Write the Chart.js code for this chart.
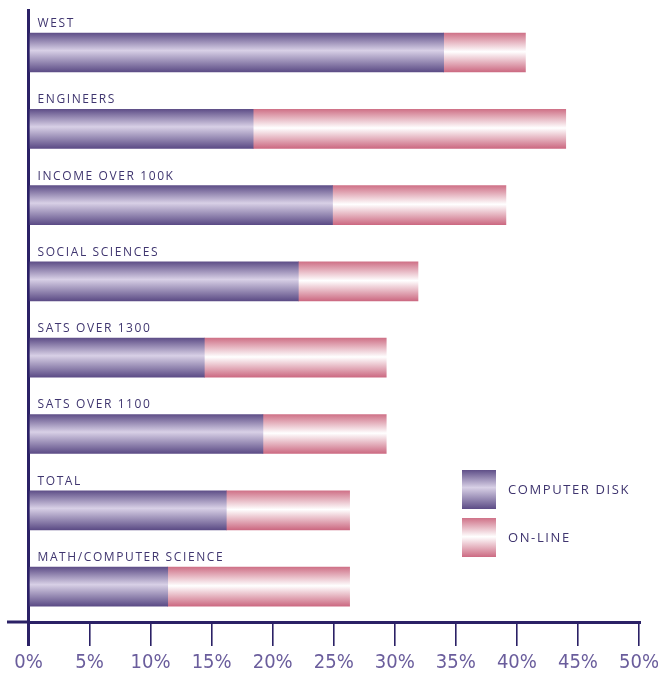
<!DOCTYPE html>
<html>
<head>
<meta charset="utf-8">
<script src="https://cdn.jsdelivr.net/npm/chart.js@4"></script>
<style>
  html, body { margin: 0; padding: 0; background: #fff; }
  #wrap { width: 658px; height: 673px; position: relative; }
</style>
</head>
<body>
<div id="wrap"><canvas id="chart"></canvas></div>
<script>
const categories = ['WEST', 'ENGINEERS', 'INCOME OVER 100K', 'SOCIAL SCIENCES',
    'SATS OVER 1300', 'SATS OVER 1100', 'TOTAL', 'MATH/COMPUTER SCIENCE'];
const computerDisk = [34.0, 18.4, 24.9, 22.1, 14.4, 19.2, 16.2, 11.4];
const onLine = [6.7, 25.6, 14.2, 9.8, 14.9, 10.1, 10.1, 14.9];
const seriesNames = ['COMPUTER DISK', 'ON-LINE'];
const xTicks = [0, 5, 10, 15, 20, 25, 30, 35, 40, 45, 50];

const AXIS = '#2b2166';
const TEXT = '#3f356f';
const BAR_H = 39;

const purpleStops = [[0, '#5f4f88'], [0.45, '#d8d0e6'], [1, '#5c4c86']];
const pinkStops = [[0, '#cf7288'], [0.48, '#ffffff'], [1, '#cc6a82']];

function makeGradient(ctx, top, bottom, stops) {
    const g = ctx.createLinearGradient(0, top, 0, bottom);
    stops.forEach(s => g.addColorStop(s[0], s[1]));
    return g;
}

function barFill(stops) {
    return context => {
        const chart = context.chart;
        const ys = chart.scales && chart.scales.y;
        if (!ys || context.dataIndex === undefined) return stops[1][1];
        const yc = ys.getPixelForValue(context.dataIndex);
        if (!Number.isFinite(yc)) return stops[1][1];
        return makeGradient(chart.ctx, yc - BAR_H / 2, yc + BAR_H / 2, stops);
    };
}

// labels above each bar, the axis stub on the left and the legend
const decorations = {
    id: 'decorations',
    afterDraw(chart) {
        const ctx = chart.ctx;
        const ys = chart.scales.y;
        const area = chart.chartArea;
        ctx.save();

        ctx.strokeStyle = AXIS;
        ctx.lineWidth = 3;
        ctx.beginPath();
        ctx.moveTo(7, area.bottom);
        ctx.lineTo(area.left, area.bottom);
        ctx.stroke();

        ctx.fillStyle = TEXT;
        ctx.font = '12px "Open Sans"';
        ctx.letterSpacing = '1.6px';
        ctx.textBaseline = 'alphabetic';
        categories.forEach((name, i) => {
            const top = ys.getPixelForValue(i) - BAR_H / 2;
            ctx.fillText(name, area.left + 9, top - 6);
        });

        const lx = 462, lw = 34, lh = 39;
        const rows = [[470, purpleStops], [518, pinkStops]];
        ctx.font = '13px "Open Sans"';
        ctx.letterSpacing = '1.6px';
        ctx.textBaseline = 'middle';
        rows.forEach((r, i) => {
            ctx.fillStyle = makeGradient(ctx, r[0], r[0] + lh, r[1]);
            ctx.fillRect(lx, r[0], lw, lh);
            ctx.fillStyle = TEXT;
            ctx.fillText(seriesNames[i], 508, r[0] + lh / 2 + 0.5);
        });
        ctx.restore();
    }
};

const canvas = document.getElementById('chart');
canvas.width = 658;
canvas.height = 673;

new Chart(canvas, {
    type: 'bar',
    data: {
        datasets: [
            {
                label: seriesNames[0],
                data: computerDisk.map((v, i) => ({ x: v, y: i })),
                backgroundColor: barFill(purpleStops),
                borderWidth: 0,
                barThickness: BAR_H
            },
            {
                label: seriesNames[1],
                data: onLine.map((v, i) => ({ x: v, y: i })),
                backgroundColor: barFill(pinkStops),
                borderWidth: 0,
                barThickness: BAR_H
            }
        ]
    },
    options: {
        indexAxis: 'y',
        responsive: false,
        animation: false,
        layout: { padding: { left: 28.5, right: 19, top: 10, bottom: 0 } },
        plugins: {
            legend: { display: false },
            tooltip: { enabled: false }
        },
        scales: {
            x: {
                type: 'linear',
                stacked: true,
                min: 0,
                max: 50,
                afterBuildTicks: scale => {
                    scale.ticks = xTicks.map(v => ({ value: v }));
                },
                afterFit: scale => {
                    scale.height = 51;
                    scale.paddingLeft = 0;
                    scale.paddingRight = 0;
                },
                border: { display: true, color: AXIS, width: 3 },
                grid: {
                    drawOnChartArea: false,
                    drawTicks: true,
                    tickLength: 24,
                    color: AXIS,
                    lineWidth: ctx => (ctx.tick && ctx.tick.value === 0 ? 3 : 1.6)
                },
                ticks: {
                    padding: 5,
                    color: '#6a5d9c',
                    font: { family: '"Liberation Sans Narrow", "DejaVu Sans Condensed", sans-serif', size: 20 },
                    callback: v => v + '%'
                }
            },
            y: {
                type: 'linear',
                stacked: true,
                reverse: true,
                offset: false,
                min: -0.557,
                max: 7.464,
                afterFit: scale => { scale.width = 0; },
                border: { display: true, color: AXIS, width: 3 },
                grid: { display: false, offset: false },
                ticks: { display: false }
            }
        }
    },
    plugins: [decorations]
});
</script>
</body>
</html>
